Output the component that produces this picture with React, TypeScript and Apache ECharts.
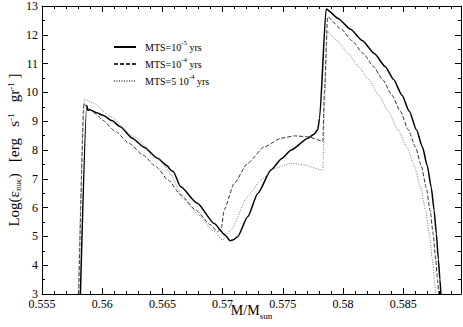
import React, { useEffect, useRef } from 'react';
import * as echarts from 'echarts';

// ---- data ----
const massSolid = [0.55819, 0.55872, 0.5588, 0.559, 0.5595, 0.5601, 0.5608, 0.5615, 0.5625, 0.5635, 0.5646, 0.5654, 0.5657, 0.5659, 0.5665, 0.5679, 0.5693, 0.5702, 0.57063, 0.5709, 0.57125, 0.57208, 0.57292, 0.57403, 0.5749, 0.5757, 0.57708, 0.5776, 0.5779, 0.57805, 0.5786, 0.5796, 0.5806, 0.5816, 0.5826, 0.5835, 0.5842, 0.5849, 0.5855, 0.5861, 0.5866, 0.587, 0.58733, 0.58757, 0.58775, 0.58792, 0.58805, 0.58813];
const logSolid = [3.0, 9.55, 9.38, 9.4, 9.3, 9.2, 9.02, 8.81, 8.41, 8.09, 7.71, 7.45, 7.3, 7.25, 6.73, 6.15, 5.45, 5.05, 4.85, 4.88, 4.99, 5.68, 6.49, 7.31, 7.7, 8.0, 8.41, 8.55, 8.7, 9.1, 12.9, 12.57, 12.2, 11.8, 11.35, 10.9, 10.45, 9.9, 9.35, 8.7, 8.1, 7.45, 6.7, 5.9, 5.1, 4.2, 3.5, 3.0];

const massDashed = [0.55805, 0.55848, 0.5588, 0.5595, 0.56, 0.5611, 0.56223, 0.5634, 0.56447, 0.5655, 0.56653, 0.5678, 0.569, 0.56958, 0.5699, 0.57013, 0.57096, 0.57208, 0.57347, 0.57486, 0.57597, 0.57708, 0.57822, 0.57833, 0.57845, 0.57872, 0.57985, 0.58073, 0.58168, 0.58253, 0.58328, 0.58407, 0.58475, 0.58543, 0.58602, 0.5865, 0.58691, 0.58724, 0.58748, 0.5877, 0.58785, 0.58794];
const logDashed = [3.0, 9.62, 9.45, 9.25, 9.04, 8.65, 8.23, 7.82, 7.42, 6.95, 6.44, 5.9, 5.4, 5.16, 5.3, 5.92, 6.84, 7.54, 8.11, 8.41, 8.49, 8.46, 8.32, 8.3, 10.0, 12.62, 12.2, 11.8, 11.35, 10.9, 10.45, 9.9, 9.35, 8.7, 8.1, 7.45, 6.7, 5.9, 5.1, 4.2, 3.5, 3.0];

const massDotted = [0.558, 0.55853, 0.5593, 0.56069, 0.56263, 0.56486, 0.5657, 0.5667, 0.568, 0.5692, 0.57, 0.57069, 0.57208, 0.57319, 0.5743, 0.57569, 0.5768, 0.57819, 0.57833, 0.57845, 0.5787, 0.57952, 0.58043, 0.58128, 0.58212, 0.58298, 0.58375, 0.58456, 0.58531, 0.58592, 0.58645, 0.58686, 0.58717, 0.58742, 0.58759, 0.58769];
const logDotted = [3.0, 9.77, 9.62, 9.16, 8.46, 7.65, 7.15, 6.32, 5.75, 5.2, 4.87, 5.22, 6.38, 6.96, 7.36, 7.54, 7.48, 7.31, 7.3, 9.5, 12.11, 11.8, 11.35, 10.9, 10.45, 9.9, 9.35, 8.7, 8.1, 7.45, 6.7, 5.9, 5.1, 4.2, 3.5, 3.0];

const seriesNames = ['MTS=1e-5', 'MTS=1e-4', 'MTS=5e-4'];
const legendLabels = [
  '{sp|}{n|MTS=10}{s|-5}{n| yrs}',
  '{sp|}{n|MTS=10}{s|-4}{n| yrs}',
  '{sp|}{n|MTS=5 10}{s|-4}{n| yrs}',
];

const xMin = 0.555;
const xMax = 0.5898;
const yMin = 3;
const yMax = 13;

const FONT = 'Liberation Serif';

function pairs(xs: number[], ys: number[]) {
  return xs.map((x, i) => [x, ys[i]]);
}

export default function App() {
  const ref = useRef<HTMLDivElement>(null);
  useEffect(() => {
    if (!ref.current) return;
    const chart = echarts.init(ref.current, undefined, { renderer: 'svg' });
    const black = '#000';
    const xLabelFmt = (v: number) => {
      if (Math.abs(v * 200 - Math.round(v * 200)) > 1e-6) return '';
      return String(Number(v.toFixed(3)));
    };
    const baseX = {
      type: 'value',
      min: xMin,
      max: xMax,
      gridIndex: 0,
      splitLine: { show: false },
      axisLine: { show: false, onZero: false },
    };
    const option: any = {
      animation: false,
      backgroundColor: '#fff',
      textStyle: { fontFamily: FONT },
      grid: { left: 42, right: 2, top: 6, bottom: 33, containLabel: false, outerBoundsMode: 'none' },
      legend: {
        orient: 'vertical',
        left: 108,
        top: 34,
        itemWidth: 22,
        itemHeight: 10,
        itemGap: 3,
        itemStyle: { opacity: 0 },
        data: seriesNames,
        formatter: (name: string) => legendLabels[seriesNames.indexOf(name)],
        textStyle: {
          fontFamily: FONT,
          color: black,
          rich: {
            sp: { width: 4 },
            n: { fontSize: 10, lineHeight: 16, fontFamily: FONT, color: black },
            s: { fontSize: 7, lineHeight: 8, verticalAlign: 'top', fontFamily: FONT, color: black },
          },
        },
      },
      xAxis: [
        {
          ...baseX,
          interval: 0.005,
          position: 'bottom',
          axisLine: { show: true, onZero: false, lineStyle: { color: black, width: 1 } },
          axisTick: { show: true, inside: true, length: 6, lineStyle: { color: black, width: 1 } },
          axisLabel: { show: true, formatter: xLabelFmt, fontSize: 12, lineHeight: 8, fontFamily: FONT, color: black, margin: 6 },
          name: '{n|M/M}{b|sun}',
          nameLocation: 'middle',
          nameGap: 9,
          nameMoveOverlap: false,
          nameTextStyle: {
            rich: {
              n: { fontSize: 14, verticalAlign: 'top', fontFamily: FONT, color: black },
              b: { fontSize: 9, padding: [8, 0, 0, 0], verticalAlign: 'bottom', fontFamily: FONT, color: black },
            },
          },
        },
        {
          ...baseX,
          interval: 0.001,
          position: 'bottom',
          axisTick: { show: true, inside: true, length: 3, lineStyle: { color: black, width: 1 } },
          axisLabel: { show: false },
        },
        {
          ...baseX,
          interval: 0.005,
          position: 'top',
          axisLine: { show: true, onZero: false, lineStyle: { color: black, width: 1 } },
          axisTick: { show: true, inside: true, length: 6, lineStyle: { color: black, width: 1 } },
          axisLabel: { show: false },
        },
        {
          ...baseX,
          interval: 0.001,
          position: 'top',
          axisTick: { show: true, inside: true, length: 3, lineStyle: { color: black, width: 1 } },
          axisLabel: { show: false },
        },
      ],
      yAxis: [
        {
          type: 'value',
          min: yMin,
          max: yMax,
          interval: 1,
          position: 'left',
          splitLine: { show: false },
          axisLine: { show: true, onZero: false, lineStyle: { color: black, width: 1 } },
          axisTick: { show: true, inside: true, length: 6, lineStyle: { color: black, width: 1 } },
          minorTick: { show: true, splitNumber: 2, length: 3, lineStyle: { color: black, width: 1 } },
          axisLabel: { fontSize: 12, lineHeight: 8, fontFamily: FONT, color: black, margin: 4 },
          name: '{n|Log(ε}{b|nuc}{n|)   [erg   s}{s|-1}{n|   gr}{s|-1}{n| ]}',
          nameLocation: 'middle',
          nameRotate: 90,
          nameGap: 20,
          nameMoveOverlap: false,
          nameTextStyle: {
            rich: {
              n: { fontSize: 15, lineHeight: 16, fontFamily: FONT, color: black },
              b: { fontSize: 9, lineHeight: 9, verticalAlign: 'bottom', fontFamily: FONT, color: black },
              s: { fontSize: 9, lineHeight: 9, verticalAlign: 'top', fontFamily: FONT, color: black },
            },
          },
        },
        {
          type: 'value',
          min: yMin,
          max: yMax,
          interval: 1,
          position: 'right',
          splitLine: { show: false },
          axisLine: { show: true, onZero: false, lineStyle: { color: black, width: 1 } },
          axisTick: { show: true, inside: true, length: 6, lineStyle: { color: black, width: 1 } },
          minorTick: { show: true, splitNumber: 2, length: 3, lineStyle: { color: black, width: 1 } },
          axisLabel: { show: false },
        },
      ],
      series: [
        {
          name: seriesNames[0],
          type: 'line',
          xAxisIndex: 0,
          yAxisIndex: 0,
          symbol: 'none',
          showSymbol: false,
          smooth: 0.2,
          smoothMonotone: 'x',
          data: pairs(massSolid, logSolid),
          lineStyle: { color: '#000', width: 1.5, type: 'solid' },
          itemStyle: { color: '#000' },
        },
        {
          name: seriesNames[1],
          type: 'line',
          xAxisIndex: 0,
          yAxisIndex: 0,
          symbol: 'none',
          showSymbol: false,
          smooth: 0.2,
          smoothMonotone: 'x',
          data: pairs(massDashed, logDashed),
          lineStyle: { color: '#333', width: 1, type: [4, 2] },
          itemStyle: { color: '#333' },
        },
        {
          name: seriesNames[2],
          type: 'line',
          xAxisIndex: 0,
          yAxisIndex: 0,
          symbol: 'none',
          showSymbol: false,
          smooth: 0.2,
          smoothMonotone: 'x',
          data: pairs(massDotted, logDotted),
          lineStyle: { color: '#777', width: 1, type: [1, 1.5] },
          itemStyle: { color: '#777' },
        },
      ],
    };
    chart.setOption(option);
    return () => chart.dispose();
  }, []);
  return <div ref={ref} style={{ position: 'fixed', left: 0, top: 0, width: 463, height: 327 }} />;
}
